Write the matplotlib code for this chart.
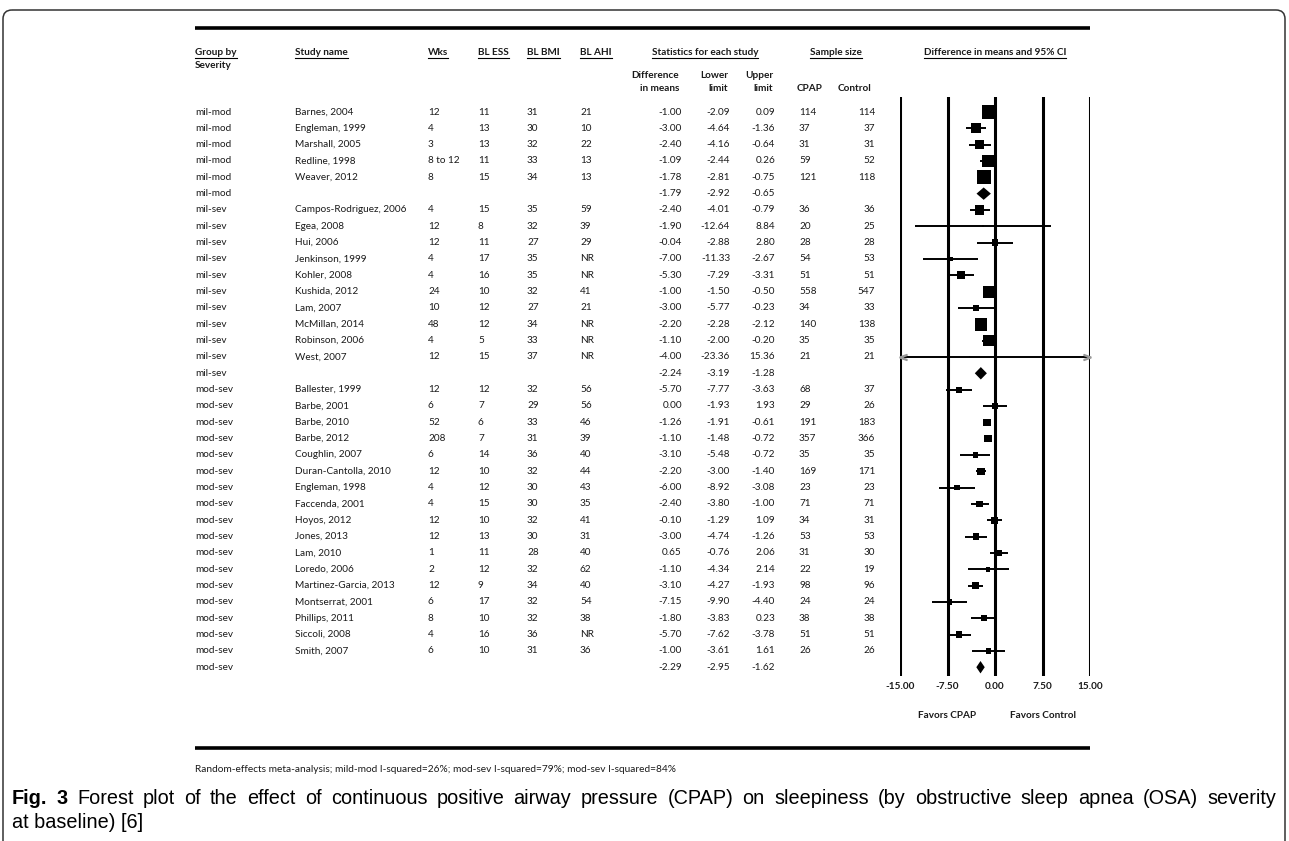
import numpy as np
import matplotlib
matplotlib.use("Agg")
import matplotlib.pyplot as plt
from matplotlib.patches import FancyBboxPatch
from matplotlib.transforms import blended_transform_factory

W, H = 1289, 841
FONT = ["Lato", "DejaVu Sans"]
CAPFONT = ["Liberation Sans Narrow", "Liberation Sans", "DejaVu Sans"]
TXT = "#1a1a1a"

groups = (["mil-mod"] * 6) + (["mil-sev"] * 11) + (["mod-sev"] * 18)
studies = ["Barnes, 2004", "Engleman, 1999", "Marshall, 2005", "Redline, 1998", "Weaver, 2012", "",
           "Campos-Rodriguez, 2006", "Egea, 2008", "Hui, 2006", "Jenkinson, 1999", "Kohler, 2008",
           "Kushida, 2012", "Lam, 2007", "McMillan, 2014", "Robinson, 2006", "West, 2007", "",
           "Ballester, 1999", "Barbe, 2001", "Barbe, 2010", "Barbe, 2012", "Coughlin, 2007",
           "Duran-Cantolla, 2010", "Engleman, 1998", "Faccenda, 2001", "Hoyos, 2012", "Jones, 2013",
           "Lam, 2010", "Loredo, 2006", "Martinez-Garcia, 2013", "Montserrat, 2001", "Phillips, 2011",
           "Siccoli, 2008", "Smith, 2007", ""]
wks = ["12", "4", "3", "8 to 12", "8", "",
       "4", "12", "12", "4", "4", "24", "10", "48", "4", "12", "",
       "12", "6", "52", "208", "6", "12", "4", "4", "12", "12", "1", "2", "12", "6", "8", "4", "6", ""]
bl_ess = ["11", "13", "13", "11", "15", "",
          "15", "8", "11", "17", "16", "10", "12", "12", "5", "15", "",
          "12", "7", "6", "7", "14", "10", "12", "15", "10", "13", "11", "12", "9", "17", "10", "16", "10", ""]
bl_bmi = ["31", "30", "32", "33", "34", "",
          "35", "32", "27", "35", "35", "32", "27", "34", "33", "37", "",
          "32", "29", "33", "31", "36", "32", "30", "30", "32", "30", "28", "32", "34", "32", "32", "36", "31", ""]
bl_ahi = ["21", "10", "22", "13", "13", "",
          "59", "39", "29", "NR", "NR", "41", "21", "NR", "NR", "NR", "",
          "56", "56", "46", "39", "40", "44", "43", "35", "41", "31", "40", "62", "40", "54", "38", "NR", "36", ""]
diff = [-1.00, -3.00, -2.40, -1.09, -1.78, -1.79,
        -2.40, -1.90, -0.04, -7.00, -5.30, -1.00, -3.00, -2.20, -1.10, -4.00, -2.24,
        -5.70, 0.00, -1.26, -1.10, -3.10, -2.20, -6.00, -2.40, -0.10, -3.00, 0.65, -1.10, -3.10,
        -7.15, -1.80, -5.70, -1.00, -2.29]
lower = [-2.09, -4.64, -4.16, -2.44, -2.81, -2.92,
         -4.01, -12.64, -2.88, -11.33, -7.29, -1.50, -5.77, -2.28, -2.00, -23.36, -3.19,
         -7.77, -1.93, -1.91, -1.48, -5.48, -3.00, -8.92, -3.80, -1.29, -4.74, -0.76, -4.34, -4.27,
         -9.90, -3.83, -7.62, -3.61, -2.95]
upper = [0.09, -1.36, -0.64, 0.26, -0.75, -0.65,
         -0.79, 8.84, 2.80, -2.67, -3.31, -0.50, -0.23, -2.12, -0.20, 15.36, -1.28,
         -3.63, 1.93, -0.61, -0.72, -0.72, -1.40, -3.08, -1.00, 1.09, -1.26, 2.06, 2.14, -1.93,
         -4.40, 0.23, -3.78, 1.61, -1.62]
n_cpap = ["114", "37", "31", "59", "121", "",
          "36", "20", "28", "54", "51", "558", "34", "140", "35", "21", "",
          "68", "29", "191", "357", "35", "169", "23", "71", "34", "53", "31", "22", "98", "24", "38", "51", "26", ""]
n_ctrl = ["114", "37", "31", "52", "118", "",
          "36", "25", "28", "53", "51", "547", "33", "138", "35", "21", "",
          "37", "26", "183", "366", "35", "171", "23", "71", "31", "53", "30", "19", "96", "24", "38", "51", "26", ""]
ticks = [-15, -7.5, 0, 7.5, 15]
footnote = "Random-effects meta-analysis; mild-mod I-squared=26%; mod-sev I-squared=79%; mod-sev I-squared=84%"
cap1 = ("Forest plot of the effect of continuous positive airway pressure (CPAP) on sleepiness "
        "(by obstructive sleep apnea (OSA) severity")
cap2 = "at baseline) [6]"

diff, lower, upper = np.array(diff), np.array(lower), np.array(upper)
summary = np.array([s == "" for s in studies])
rows = np.arange(len(groups))

# relative random-effects (DerSimonian-Laird) weights per group -> marker area
relw = np.zeros(len(rows))
for g in dict.fromkeys(groups):
    idx = np.array([i for i, gg in enumerate(groups) if gg == g and not summary[i]])
    v = ((upper[idx] - lower[idx]) / (2 * 1.96)) ** 2
    w = 1 / v
    mu = np.sum(w * diff[idx]) / w.sum()
    q = np.sum(w * (diff[idx] - mu) ** 2)
    c = w.sum() - np.sum(w ** 2) / w.sum()
    tau2 = max(0.0, (q - (len(idx) - 1)) / c)
    ws = 1 / (v + tau2)
    relw[idx] = ws / ws.sum()

# ---- layout (pixels) ----
ROW0, ROWH = 112, 16.33
FTOP, FBOT = 97, 676
FX0, FX1 = 900, 1090

fig = plt.figure(figsize=(W / 100, H / 100), dpi=100)
bg = fig.add_axes([0, 0, 1, 1])
bg.set_xlim(0, W); bg.set_ylim(H, 0); bg.axis("off")

# rounded frame, open at the bottom
bg.add_patch(FancyBboxPatch((3, 10), 1282, 900, boxstyle="round,pad=0,rounding_size=9",
                            fill=False, ec="#333333", lw=1.1, clip_on=True))

bg.plot([195, FX1], [28, 28], color="black", lw=2.6, solid_capstyle="butt")
bg.plot([195, FX1], [748, 748], color="black", lw=2.6, solid_capstyle="butt")

rend = fig.canvas.get_renderer()
inv = bg.transData.inverted()

def hdr(x, y, s, ha="left", under=True):
    t = bg.text(x, y, s, ha=ha, va="center", fontsize=7.2, fontweight="bold", family=FONT, color=TXT)
    if under:
        bb = t.get_window_extent(renderer=rend)
        (x0, y0), (x1, _) = inv.transform([[bb.x0, bb.y0], [bb.x1, bb.y1]])
        bg.plot([x0, x1], [y0 + 1.5, y0 + 1.5], color="black", lw=0.8)
    return t

HY = 52
hdr(195, HY, "Group by")
hdr(195, 65, "Severity", under=False)
hdr(295, HY, "Study name")
hdr(428, HY, "Wks")
hdr(478, HY, "BL ESS")
hdr(527, HY, "BL BMI")
hdr(580, HY, "BL AHI")
hdr(705, HY, "Statistics for each study", ha="center")
hdr(836, HY, "Sample size", ha="center")
hdr((FX0 + FX1) / 2, HY, "Difference in means and 95% CI", ha="center")
for x, a, b in [(679, "Difference", "in means"), (728, "Lower", "limit"), (773, "Upper", "limit")]:
    hdr(x, 75, a, ha="right", under=False)
    hdr(x, 88, b, ha="right", under=False)
hdr(797, 88, "CPAP", under=False)
hdr(838, 88, "Control", under=False)

kw = dict(va="center", fontsize=7.2, family=FONT, color=TXT)
for i in rows:
    y = ROW0 + i * ROWH
    bg.text(195, y, groups[i], **kw)
    bg.text(295, y, studies[i], **kw)
    bg.text(428, y, wks[i], **kw)
    bg.text(478, y, bl_ess[i], **kw)
    bg.text(527, y, bl_bmi[i], **kw)
    bg.text(580, y, bl_ahi[i], **kw)
    bg.text(682, y, f"{diff[i]:.2f}", ha="right", **kw)
    bg.text(730, y, f"{lower[i]:.2f}", ha="right", **kw)
    bg.text(775, y, f"{upper[i]:.2f}", ha="right", **kw)
    bg.text(799, y, n_cpap[i], **kw)
    bg.text(875, y, n_ctrl[i], ha="right", **kw)

# ---- forest panel ----
ax = fig.add_axes([FX0 / W, 1 - FBOT / H, (FX1 - FX0) / W, (FBOT - FTOP) / H])
ax.set_xlim(-15, 15)
ax.set_ylim((FBOT - ROW0) / ROWH, (FTOP - ROW0) / ROWH)
for s in ax.spines.values():
    s.set_visible(False)
ax.set_yticks([])
ax.set_xticks(ticks)
ax.set_xticklabels([f"{t:.2f}" for t in ticks], fontsize=7.2, fontweight="bold", family=FONT, color=TXT)
ax.tick_params(axis="x", length=0, pad=4)
for t in ticks:
    ax.axvline(t, color="black", lw=2.2, zorder=1)

st = ~summary
lo_c = np.clip(lower, -15, 15)
hi_c = np.clip(upper, -15, 15)
ax.hlines(rows[st], lo_c[st], hi_c[st], color="black", lw=1.4, zorder=2)
side_pt = 26 * np.sqrt(relw) * 0.72
ax.scatter(diff[st], rows[st], s=side_pt[st] ** 2, marker="s", color="black", lw=0, zorder=3)
for i in rows[st]:
    if lower[i] < -15:
        ax.plot(-14.5, i, marker="$<$", ms=5, color="#999999", clip_on=False, zorder=3)
    if upper[i] > 15:
        ax.plot(14.5, i, marker="$>$", ms=5, color="#999999", clip_on=False, zorder=3)
for i in rows[summary]:
    ax.fill([lower[i], diff[i], upper[i], diff[i]], [i, i - 0.38, i, i + 0.38], color="black", lw=0, zorder=3)

tr = blended_transform_factory(ax.transData, bg.transData)
ax.text(-7.5, 715, "Favors CPAP", transform=tr, ha="center", va="center", fontsize=7.2,
        fontweight="bold", family=FONT, color=TXT)
ax.text(7.5, 715, "Favors Control", transform=tr, ha="center", va="center", fontsize=7.2,
        fontweight="bold", family=FONT, color=TXT)

# ---- footnote and caption ----
bg.text(195, 770, footnote, va="center", fontsize=7.3, family=FONT, color=TXT)

words = [("Fig.", True), ("3", True)] + [(w, False) for w in cap1.split()]

# pick a caption size so the words fill most of the line, then justify
probe = [bg.text(0, 0, w, fontsize=10, family=CAPFONT, fontweight="bold" if b else "normal")
         for w, b in words]
natural = sum(p.get_window_extent(renderer=rend).width for p in probe)
for p in probe:
    p.remove()
CAPSIZE = 10 * 1075 / natural

def justify(y, x0, x1, words):
    arts = [bg.text(0, y, w, va="center", fontsize=CAPSIZE, family=CAPFONT,
                    fontweight="bold" if b else "normal", color="black") for w, b in words]
    widths = [a.get_window_extent(renderer=rend).width for a in arts]
    gap = (x1 - x0 - sum(widths)) / (len(arts) - 1)
    x = x0
    for a, wd in zip(arts, widths):
        a.set_x(x)
        x += wd + gap

justify(799, 12, 1276, words)
bg.text(12, 822, cap2, va="center", fontsize=CAPSIZE, family=CAPFONT, color="black")

fig.savefig("out.png", dpi=100, facecolor="white")
